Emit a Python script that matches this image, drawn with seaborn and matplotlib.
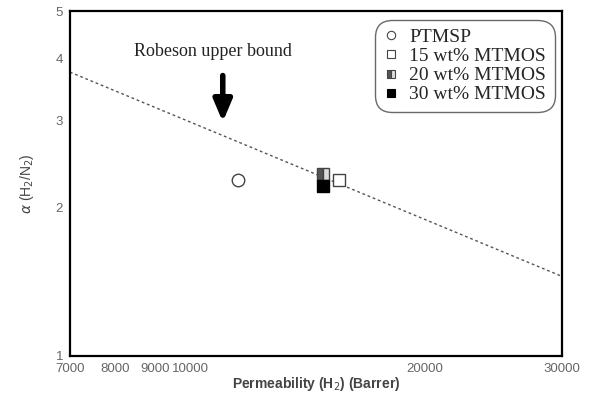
import matplotlib
matplotlib.use("Agg")
import matplotlib.pyplot as plt
from matplotlib.lines import Line2D
import seaborn as sns
import pandas as pd

# Membrane data: H2 permeability (Barrer) and H2/N2 selectivity
labels = ["PTMSP", "15 wt% MTMOS", "20 wt% MTMOS", "30 wt% MTMOS"]
permeability = [11500, 15500, 14800, 14800]
selectivity = [2.27, 2.27, 2.34, 2.21]

# Robeson upper bound for H2/N2
bound_perm = [7000, 30000]
bound_alpha = [3.76, 1.45]

x_ticks = [7000, 8000, 9000, 10000, 20000, 30000]
y_ticks = [1, 2, 3, 4, 5]

sns.set_style("white")
plt.rcParams["font.family"] = ["Liberation Sans", "DejaVu Sans"]

fig = plt.figure(figsize=(5.89, 3.99), dpi=100)
ax = fig.add_axes([0.1188, 0.1078, 0.954 - 0.1188, 0.9724 - 0.1078])

bound = pd.DataFrame({"P": bound_perm, "alpha": bound_alpha})
sns.lineplot(data=bound, x="P", y="alpha", ax=ax, color="#555555",
             lw=1.0, linestyle=(0, (2, 2)))

styles = [
    dict(marker="o", mfc="white", mec="#444444", fillstyle="full"),
    dict(marker="s", mfc="white", mec="#444444", fillstyle="full"),
    dict(marker="s", mfc="#555555", mec="#444444", fillstyle="left", markerfacecoloralt="#dddddd"),
    dict(marker="s", mfc="black", mec="black", fillstyle="full"),
]
handles = []
for lab, p, a, st in zip(labels, permeability, selectivity, styles):
    ax.plot([p], [a], ls="none", ms=9, mew=1.0, **st)
    handles.append(Line2D([], [], ls="none", ms=6, mew=0.8, label=lab, **st))

ax.set_xscale("log")
ax.set_yscale("log")
ax.set_xlim(7000, 30000)
ax.set_ylim(1, 5)

ax.xaxis.set_major_locator(matplotlib.ticker.FixedLocator(x_ticks))
ax.xaxis.set_minor_locator(matplotlib.ticker.NullLocator())
ax.set_xticklabels([str(t) for t in x_ticks])
ax.yaxis.set_major_locator(matplotlib.ticker.FixedLocator(y_ticks))
ax.yaxis.set_minor_locator(matplotlib.ticker.NullLocator())
ax.set_yticklabels([str(t) for t in y_ticks])

ax.tick_params(axis="both", which="major", direction="inout", length=6, width=1.2,
               color="black", labelsize=9.5, labelcolor="#666666", pad=2)
for s in ax.spines.values():
    s.set_visible(True)
    s.set_color("black")
    s.set_linewidth(1.6)

ax.set_xlabel("Permeability (H$_2$) (Barrer)", fontsize=10, fontweight="bold",
              color="#444444", labelpad=0)
ax.set_ylabel(r"$\alpha$ (H$_2$/N$_2$)", fontsize=10, color="#444444", labelpad=14)

ax.annotate("", xy=(11000, 2.98), xytext=(11000, 3.70),
            arrowprops=dict(arrowstyle="-|>,head_width=0.55,head_length=1.3",
                            lw=4, color="black", shrinkA=0, shrinkB=0))
ax.text(10680, 4.13, "Robeson upper bound", ha="center", va="center",
        fontsize=13, family=["Liberation Serif", "DejaVu Serif"], color="#222222")

leg = ax.legend(handles=handles, loc="upper right", bbox_to_anchor=(0.985, 0.975),
                prop={"family": ["Liberation Serif", "DejaVu Serif"], "size": 14},
                frameon=True, fancybox=True, edgecolor="#444444",
                handlelength=0.8, handletextpad=0.5, labelspacing=0.08,
                borderpad=0.25, borderaxespad=0.2)
leg.get_frame().set_linewidth(1.0)
leg.get_frame().set_boxstyle("round,pad=0.2,rounding_size=0.9")

fig.savefig("out.png", dpi=100)
